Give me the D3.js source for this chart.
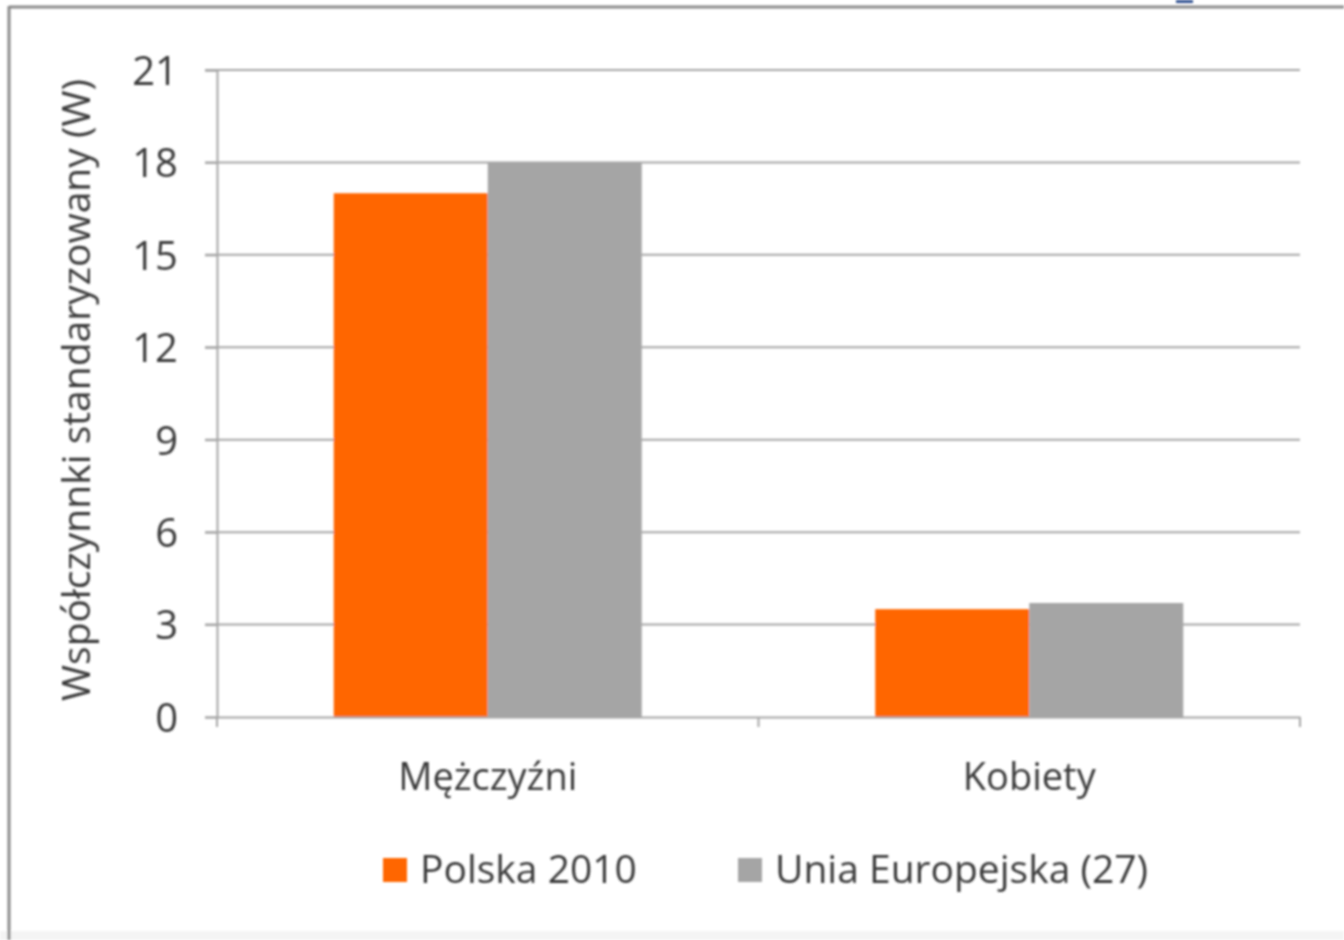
<!DOCTYPE html>
<html lang="pl">
<head>
<meta charset="utf-8">
<script src="https://cdn.jsdelivr.net/npm/d3@7"></script>
<style>
  html, body { margin: 0; padding: 0; background: #fff; }
  svg { display: block; }
  text { font-family: "Open Sans", Lato, sans-serif; fill: #3a3a3a; }
</style>
</head>
<body>
<svg id="chart" width="1344" height="940"></svg>
<script>
// Standardised coefficients (W) by sex
const categories = ["Mężczyźni", "Kobiety"];
const seriesNames = ["Polska 2010", "Unia Europejska (27)"];
const polska2010 = [17.0, 3.5];
const uniaEuropejska = [18.0, 3.7];
const yTicks = [0, 3, 6, 9, 12, 15, 18, 21];
const colors = ["#ff6600", "#a5a5a5"];

const svg = d3.select("#chart");
const W = 1344, H = 940;
const FONT = "'Open Sans', Lato, sans-serif";
const TEXT = "#3a3a3a";

// soft filter for the whole drawing
const defs = svg.append("defs");
defs.append("filter").attr("id", "soft")
  .append("feGaussianBlur").attr("stdDeviation", 0.8);

const root = svg.append("g").attr("filter", "url(#soft)");

// frame
root.append("rect").attr("x", 0).attr("y", 931).attr("width", W).attr("height", 9).attr("fill", "#f4f4f4");
root.append("line").attr("x1", 9).attr("x2", W).attr("y1", 7).attr("y2", 7)
  .attr("stroke", "#8a8a8a").attr("stroke-width", 3);
root.append("line").attr("x1", 9).attr("x2", 9).attr("y1", 6).attr("y2", H)
  .attr("stroke", "#8a8a8a").attr("stroke-width", 3);
root.append("rect").attr("x", 1176).attr("y", 0).attr("width", 17).attr("height", 3).attr("fill", "#2e4f8f");

const m = { left: 217, right: 1300, top: 70, bottom: 717 };

const x = d3.scaleBand().domain(categories).range([m.left, m.right]).paddingInner(0).paddingOuter(0);
const x1 = d3.scaleBand().domain(seriesNames).range([0, x.bandwidth()]).paddingInner(0).paddingOuter(0.758);
const y = d3.scaleLinear().domain([0, 21]).range([m.bottom, m.top]);

// gridlines
root.append("g").selectAll("line").data(yTicks.filter(d => d > 0)).join("line")
  .attr("x1", m.left - 12).attr("x2", m.right)
  .attr("y1", d => y(d)).attr("y2", d => y(d))
  .attr("stroke", "#a6a6a6").attr("stroke-width", 2);

// y axis
const yAxis = root.append("g").attr("transform", `translate(${m.left},0)`)
  .call(d3.axisLeft(y).tickValues(yTicks).tickSize(12).tickPadding(27));
yAxis.select(".domain").attr("stroke", "#a6a6a6").attr("stroke-width", 2);
yAxis.selectAll(".tick line").attr("stroke", "#a6a6a6").attr("stroke-width", 2);
yAxis.selectAll(".tick text").attr("font-size", 40).style("font-family", FONT)
  .attr("fill", TEXT).attr("dy", "0.36em");

// bars
const seriesValues = [polska2010, uniaEuropejska];
const groups = root.append("g").selectAll("g").data(categories).join("g")
  .attr("transform", d => `translate(${x(d)},0)`);
groups.selectAll("rect").data((c, i) => seriesNames.map((s, k) => ({ s, k, v: seriesValues[k][i] })))
  .join("rect")
  .attr("x", d => x1(d.s))
  .attr("width", x1.bandwidth())
  .attr("y", d => y(d.v))
  .attr("height", d => y(0) - y(d.v))
  .attr("fill", d => colors[d.k]);

// x axis
const xAxis = root.append("g").attr("transform", `translate(0,${m.bottom})`)
  .call(d3.axisBottom(x).tickSize(0));
xAxis.select(".domain").attr("stroke", "#a6a6a6").attr("stroke-width", 2);
xAxis.selectAll(".tick text").attr("font-size", 38).style("font-family", FONT)
  .attr("fill", TEXT).attr("y", 73).attr("dy", 0);
// category separators
root.append("g").selectAll("line").data([m.left, x.step() + m.left, m.right]).join("line")
  .attr("x1", d => d).attr("x2", d => d)
  .attr("y1", m.bottom).attr("y2", m.bottom + 10)
  .attr("stroke", "#a6a6a6").attr("stroke-width", 2);

// y axis title
root.append("text")
  .attr("transform", `translate(90,390) rotate(-90)`)
  .attr("text-anchor", "middle").attr("font-size", 39)
  .text("Współczynnki standaryzowany (W)");

// legend
const legendItems = [{ x: 383, name: seriesNames[0], c: colors[0] }, { x: 738, name: seriesNames[1], c: colors[1] }];
const lg = root.append("g").selectAll("g").data(legendItems).join("g")
  .attr("transform", d => `translate(${d.x},858)`);
lg.append("rect").attr("width", 24).attr("height", 24).attr("fill", d => d.c);
lg.append("text").attr("x", 37).attr("y", 25).attr("font-size", 39).text(d => d.name);
</script>
</body>
</html>
